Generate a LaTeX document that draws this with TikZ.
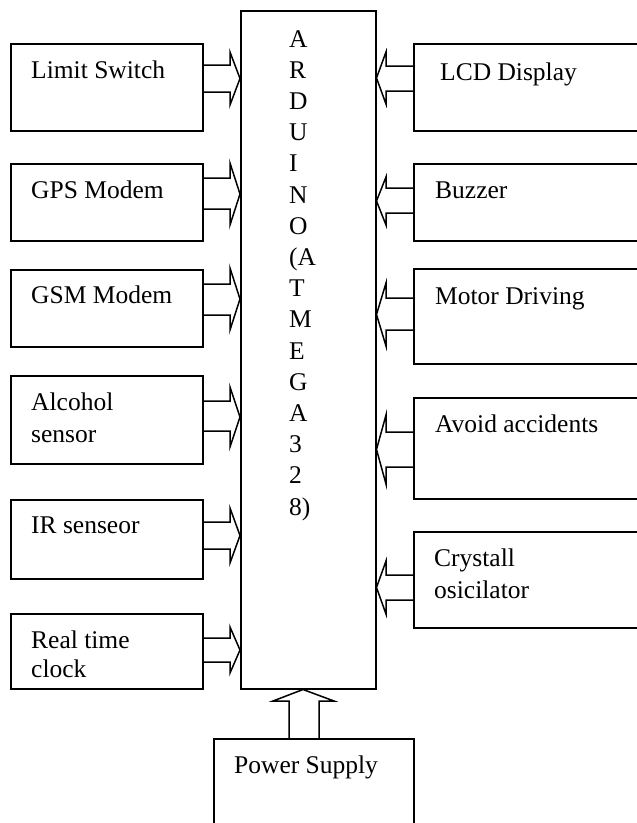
\documentclass[tikz,border=0pt]{standalone}
\usepackage{fontspec}
\setmainfont{Liberation Serif}
\usetikzlibrary{calc}
\tikzset{
  box/.style={draw, line width=1.5pt, rectangle, inner sep=0pt, anchor=north west},
  lbl/.style={inner sep=0pt, anchor=base west, font=\fontsize{25.5}{31}\selectfont},
  conn/.style={draw, line width=1.5pt, line join=miter},
}
\begin{document}
\begin{tikzpicture}[x=1pt,y=-1pt]
\useasboundingbox (0,0) rectangle (637,823);
\clip (0,0) rectangle (637,823);
% central block
\node[box, minimum width=135, minimum height=678] (ard) at (240,10) {};
\foreach \t [count=\i from 0] in {A,R,D,U,I,N,O,{(A},T,M,E,G,A,3,2,{8)}}
  \node[lbl] (ardt\i) at (289,{47+31.2*\i}) {\t};
% left boxes
\node[box, minimum width=192, minimum height=87] (ls) at (10,43) {};
\node[box, minimum width=192, minimum height=77] (gps) at (10,163) {};
\node[box, minimum width=192, minimum height=77] (gsm) at (10,269) {};
\node[box, minimum width=192, minimum height=88] (alc) at (10,375) {};
\node[box, minimum width=192, minimum height=79] (ir) at (10,499) {};
\node[box, minimum width=192, minimum height=75] (rtc) at (10,613) {};
\node[lbl] (lst) at (31,78) {Limit Switch};
\node[lbl] (gpst) at (31,198) {GPS Modem};
\node[lbl] (gsmt) at (31,303) {GSM Modem};
\node[lbl] (alct1) at (31,410) {Alcohol};
\node[lbl] (alct2) at (31,442) {sensor};
\node[lbl] (irt) at (31,533) {IR senseor};
\node[lbl] (rtct1) at (31,648) {Real time};
\node[lbl] (rtct2) at (31,677) {clock};
% right boxes
\node[box, minimum width=240, minimum height=87] (lcd) at (413,43) {};
\node[box, minimum width=240, minimum height=77] (buz) at (413,163) {};
\node[box, minimum width=240, minimum height=95] (mot) at (413,268) {};
\node[box, minimum width=240, minimum height=101] (avo) at (413,397) {};
\node[box, minimum width=240, minimum height=96] (cry) at (413,531) {};
\node[lbl] (lcdt) at (440,80) {LCD Display};
\node[lbl] (buzt) at (435,198) {Buzzer};
\node[lbl] (mott) at (435,304) {Motor Driving};
\node[lbl] (avot) at (435,432) {Avoid accidents};
\node[lbl] (cryt1) at (434,566) {Crystall};
\node[lbl] (cryt2) at (434,598) {osicilator};
% power supply
\node[box, minimum width=200, minimum height=120] (ps) at (213,738) {};
\node[lbl] (pst) at (234,773) {Power Supply};
% left block arrows
\foreach \n/\a/\b/\ht/\hb in {ls/65/92/52/105, gps/178/209/163/225, gsm/284/315/268/330,
                               alc/401/431/387/447, ir/522/549/508/563, rtc/638/662/627/673}
  \draw[conn] (\n.east |- 0,\a) -- (230,\a) -- (230,\ht) -- (ard.west |- 0,{(\ht+\hb)/2})
              -- (230,\hb) -- (230,\b) -- (\n.east |- 0,\b);
% right block arrows
\foreach \n/\a/\b/\ht/\hb in {lcd/66/91/52/104, buz/188/213/177/225, mot/298/330/283/346,
                               avo/432/467/415/484, cry/575/600/561/614}
  \draw[conn] (\n.west |- 0,\a) -- (386,\a) -- (386,\ht) -- (ard.east |- 0,{(\ht+\hb)/2})
              -- (386,\hb) -- (386,\b) -- (\n.west |- 0,\b);
% power arrow
\draw[conn] (ps.north -| 289,0) -- (289,701) -- (273,701) -- (ard.south -| 303,0)
            -- (334,701) -- (319,701) -- (ps.north -| 319,0);
\end{tikzpicture}
\end{document}
